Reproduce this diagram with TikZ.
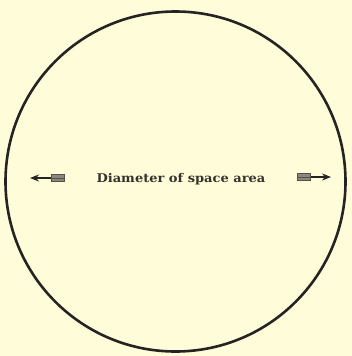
\documentclass[tikz,border=0pt]{standalone}
\usepackage{fontspec}
\usetikzlibrary{arrows.meta}
\setmainfont{DejaVu Serif}
\definecolor{bgc}{HTML}{FFFCD9}
\definecolor{inkc}{HTML}{262422}
\definecolor{textc}{HTML}{35322C}
\definecolor{featc}{HTML}{8A877C}
\definecolor{featd}{HTML}{55524A}
\begin{document}
\begin{tikzpicture}[x=1pt,y=-1pt,
  ring/.style={draw=inkc,line width=2.6pt},
  label/.style={text=textc,font=\bfseries\fontsize{12}{14}\selectfont,inner sep=0pt,anchor=base,xscale=1.085},
  shaft/.style={draw=inkc,line width=1.5pt,-{Stealth[length=9pt,width=7pt]}},
  feather/.style={fill=featc,draw=featd,line width=0.8pt}]
\fill[bgc] (0,0) rectangle (352,356);
\useasboundingbox (0,0) rectangle (352,356);
\node[circle,ring,minimum size=340pt,inner sep=0pt] (ring) at (175.5,181.5) {};
\node[label] (lbl) at (181,182) {Diameter of space area};
% left arrow
\coordinate (ltail) at (56,178);
\coordinate (ltip) at (30,178);
\draw[shaft] (ltail) -- (ltip);
\draw[feather] (51,174.5) rectangle (64,181.5);
\draw[featd,line width=0.7pt] (51,178) -- (64,178);
% right arrow
\coordinate (rtail) at (302,177);
\coordinate (rtip) at (331,177);
\draw[shaft] (rtail) -- (rtip);
\draw[feather] (297,173.5) rectangle (310,180.5);
\draw[featd,line width=0.7pt] (297,177) -- (310,177);
\end{tikzpicture}
\end{document}
